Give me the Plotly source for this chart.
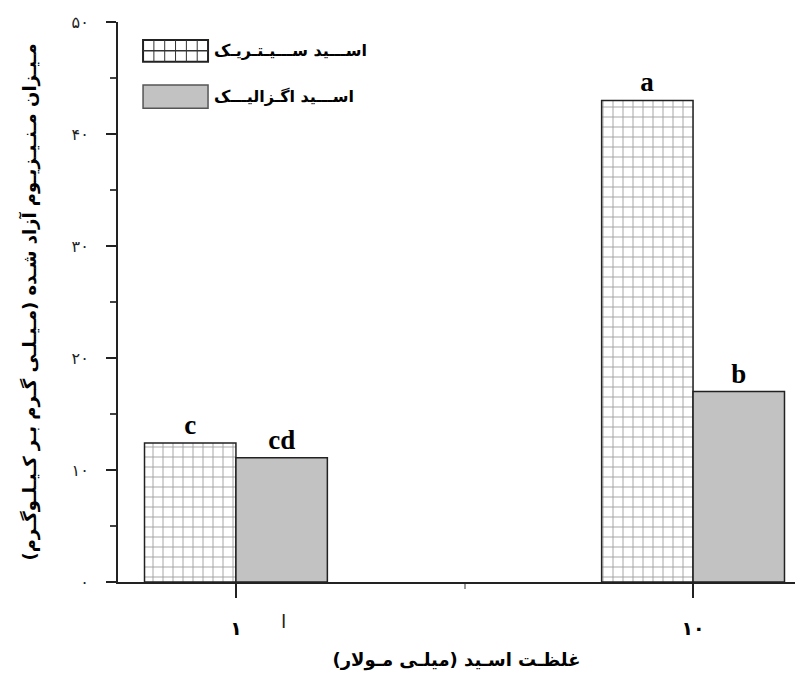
import plotly.graph_objects as go

# Acid concentrations (mM) and released magnesium (mg/kg)
categories = ["۱", "۱۰"]
citric = [12.4, 43.0]
oxalic = [11.1, 17.0]
citric_letters = ["c", "a"]
oxalic_letters = ["cd", "b"]
y_tickvals = [0, 10, 20, 30, 40, 50]
y_ticktext = ["۰", "۱۰", "۲۰", "۳۰", "۴۰", "۵۰"]
series_names = ["اســـید ســـیـتـریـک", "اســـید اگـزالیـــک"]

xs = list(range(len(categories)))
PERSIAN = "DejaVu Sans"
SERIF = "Liberation Serif"

fig = go.Figure()
fig.add_trace(go.Bar(
    x=xs, y=citric, name=series_names[0],
    text=citric_letters, textposition="outside",
    textfont=dict(family=SERIF, size=27, color="black", weight="bold"),
    marker=dict(color="white",
                line=dict(color="#222", width=1.5),
                pattern=dict(shape="+", size=10, solidity=0.16,
                             fgcolor="#2a2a2a", bgcolor="white")),
    cliponaxis=False, showlegend=False,
))
fig.add_trace(go.Bar(
    x=xs, y=oxalic, name=series_names[1],
    text=oxalic_letters, textposition="outside",
    textfont=dict(family=SERIF, size=27, color="black", weight="bold"),
    marker=dict(color="#c2c2c2", line=dict(color="#222", width=1.5)),
    cliponaxis=False, showlegend=False,
))

# Hand-drawn legend in the upper-left corner of the plot
sw_x0, sw_x1 = 0.037, 0.133
rows = [(0.968, 0.929), (0.8875, 0.846)]
shapes = []
# citric swatch: white box with a grid
y0, y1 = rows[0][1], rows[0][0]
shapes.append(dict(type="rect", xref="paper", yref="paper", x0=sw_x0, x1=sw_x1,
                   y0=y0, y1=y1, fillcolor="white", line=dict(color="#222", width=2)))
ncols = 6
for i in range(1, ncols):
    xx = sw_x0 + (sw_x1 - sw_x0) * i / ncols
    shapes.append(dict(type="line", xref="paper", yref="paper", x0=xx, x1=xx,
                       y0=y0, y1=y1, line=dict(color="#333", width=1)))
yy = (y0 + y1) / 2
shapes.append(dict(type="line", xref="paper", yref="paper", x0=sw_x0, x1=sw_x1,
                   y0=yy, y1=yy, line=dict(color="#333", width=1.5)))
# oxalic swatch: grey box
shapes.append(dict(type="rect", xref="paper", yref="paper", x0=sw_x0, x1=sw_x1,
                   y0=rows[1][1], y1=rows[1][0], fillcolor="#c2c2c2",
                   line=dict(color="#555", width=1.5)))

annotations = []
for name, (ya, yb) in zip(series_names, rows):
    annotations.append(dict(xref="paper", yref="paper", x=sw_x1 + 0.006, y=(ya + yb) / 2,
                            xanchor="left", yanchor="middle", showarrow=False,
                            text=name, font=dict(family=PERSIAN, size=16, color="black",
                                                 weight="bold")))
annotations.append(dict(xref="paper", yref="paper", x=0.245, y=-0.07,
                        xanchor="center", yanchor="middle", showarrow=False,
                        text="ا", font=dict(family=PERSIAN, size=19, color="#222")))

fig.update_layout(
    width=798, height=682,
    margin=dict(l=118, r=3, t=22, b=100),
    paper_bgcolor="white", plot_bgcolor="white",
    barmode="group", bargap=0.6, bargroupgap=0,
    shapes=shapes, annotations=annotations,
    showlegend=False,
)
fig.update_xaxes(
    range=[-0.258, 1.223],
    tickvals=xs, ticktext=categories,
    showline=True, linecolor="#222", linewidth=2,
    ticks="outside", ticklen=14, tickwidth=1.5, tickcolor="#222",
    minor=dict(dtick=0.5, tick0=0, ticks="outside", ticklen=5, tickcolor="#999"),
    ticklabelstandoff=14,
    tickfont=dict(family=PERSIAN, size=19, color="black", weight="bold"),
    showgrid=False, zeroline=False,
    title=dict(text="غلظـت اسـید (میلـی مـولار)", standoff=16,
               font=dict(family=PERSIAN, size=18, color="black", weight="bold")),
)
fig.update_yaxes(
    range=[0, 50],
    tickvals=y_tickvals, ticktext=y_ticktext,
    showline=True, linecolor="#222", linewidth=2,
    ticks="outside", ticklen=10, tickwidth=1.5, tickcolor="#222",
    minor=dict(dtick=5, tick0=0, ticks="outside", ticklen=6, tickcolor="#444"),
    ticklabelstandoff=14,
    tickfont=dict(family=PERSIAN, size=16, color="#222"),
    showgrid=False, zeroline=False,
    title=dict(text="مـیـزان مـنـیـزیـوم آزاد شـده (مـیـلـی گـرم بـر کـیـلـوگـرم)", standoff=30,
               font=dict(family=PERSIAN, size=18, color="black", weight="bold")),
)

fig.write_html("out.html")
